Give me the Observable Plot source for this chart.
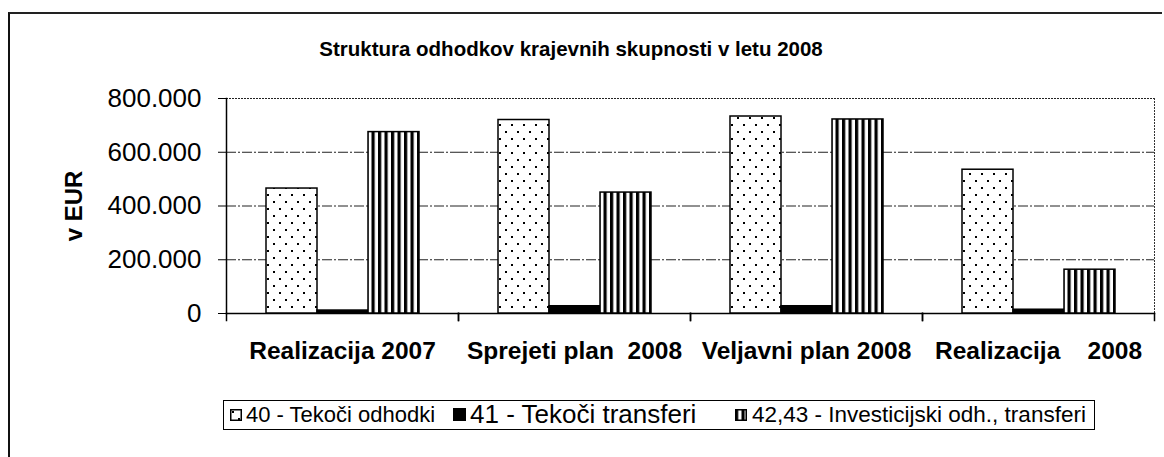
<!DOCTYPE html>
<html>
<head>
<meta charset="utf-8">
<script src="https://cdn.jsdelivr.net/npm/d3@7"></script>
<script src="https://cdn.jsdelivr.net/npm/@observablehq/plot@0.6"></script>
<style>
  body { margin: 0; background: #fff; font-family: "Liberation Sans", Arial, sans-serif; }
  #wrap { position: relative; width: 1164px; height: 457px; overflow: hidden; background: #fff; }
  #frame { position: absolute; left: 8px; top: 12px; width: 1152px; height: 470px; border-left: 2px solid #111; border-top: 2px solid #222; }
  #title { position: absolute; left: 0; top: 37px; width: 1142px; text-align: center; font-size: 20.5px; font-weight: bold; color: #000; white-space: pre; }
  #chart { position: absolute; left: 0; top: 80px; }
  #chart svg text { white-space: pre; }
  #legend { position: absolute; left: 223px; top: 400px; width: 872px; height: 30px; box-sizing: border-box; border: 1.5px solid #000; color: #000; }
  .sw { position: absolute; top: 7px; }
  .lt { position: absolute; top: 0; height: 27px; line-height: 27px; white-space: pre; }
</style>
</head>
<body>
<svg width="0" height="0" style="position:absolute">
  <defs>
    <pattern id="dots" width="12" height="14" patternUnits="userSpaceOnUse">
      <rect width="12" height="14" fill="#fff"/>
      <rect x="2" y="2" width="2" height="2" fill="#000"/>
      <rect x="8" y="9" width="2" height="2" fill="#000"/>
    </pattern>
    <pattern id="stripes" width="6.5" height="10" patternUnits="userSpaceOnUse">
      <rect width="6.5" height="10" fill="#fff"/>
      <rect x="0" y="0" width="3.2" height="10" fill="#000"/>
    </pattern>
  </defs>
</svg>
<div id="wrap">
  <div id="frame"></div>
  <div id="title"></div>
  <div id="chart"></div>
  <div id="legend"></div>
</div>
<script>
const chartTitle = "Struktura odhodkov krajevnih skupnosti v letu 2008";
const yLabel = "v EUR";
const categories = ["Realizacija 2007", "Sprejeti plan  2008", "Veljavni plan 2008", "Realizacija    2008"];
const seriesNames = ["40 - Tekoči odhodki", "41 - Tekoči transferi", "42,43 - Investicijski odh., transferi"];
const tekociOdhodki = [465000, 720000, 733000, 535000];
const tekociTransferi = [11000, 27000, 27000, 14000];
const investicijski = [675000, 450000, 722000, 163000];
const yTicks = [0, 200000, 400000, 600000, 800000];
const seriesFills = ["url(#dots)", "#000", "url(#stripes)"];

const seriesValues = [tekociOdhodki, tekociTransferi, investicijski];
const rows = categories.flatMap((c, i) => seriesNames.map((s, j) => ({cat: c, series: s, value: seriesValues[j][i]})));

const fmt = d3.formatLocale({decimal: ",", thousands: ".", grouping: [3], currency: ["", ""]}).format(",");

document.getElementById("title").textContent = chartTitle;

const plot = Plot.plot({
  width: 1164,
  height: 300,
  marginLeft: 225,
  marginRight: 9,
  marginTop: 18,
  marginBottom: 67,
  style: {fontFamily: "'Liberation Sans', Arial, sans-serif", color: "#000", background: "transparent"},
  fx: {domain: categories, padding: 0, label: null},
  x: {domain: seriesNames, paddingInner: 0, paddingOuter: 0.75, axis: null},
  y: {domain: [0, 800000], label: null},
  color: {type: "ordinal", domain: seriesNames, range: seriesFills},
  marks: [
    Plot.gridY(yTicks.filter(d => d > 0 && d < 800000), {stroke: "#222", strokeOpacity: 1, strokeWidth: 1, strokeDasharray: "10,2,2,2"}),
    Plot.gridY([800000], {stroke: "#222", strokeOpacity: 1, strokeWidth: 1, strokeDasharray: "2,1"}),
    Plot.frame({anchor: "right", facet: "super", stroke: "#333", strokeDasharray: "1,2"}),
    Plot.frame({anchor: "left", facet: "super", stroke: "#000", strokeWidth: 1.5}),
    Plot.frame({anchor: "left", insetTop: 215, insetBottom: -7, stroke: "#000", strokeWidth: 1.5}),
    Plot.frame({anchor: "right", insetTop: 215, insetBottom: -7, stroke: "#000", strokeWidth: 1.5}),
    Plot.frame({anchor: "bottom", stroke: "#000", strokeWidth: 1.5}),
    Plot.barY(rows, {fx: "cat", x: "series", y: "value", fill: "series", stroke: "#000", strokeWidth: 1.5}),
    Plot.axisY(yTicks, {anchor: "left", tickSize: 8, tickPadding: 17, tickFormat: fmt, fontSize: 26, label: null, stroke: "#000"}),
    Plot.axisY([], {anchor: "left", label: yLabel, labelAnchor: "center", labelArrow: "none", labelOffset: 162, fontSize: 24, fontWeight: "bold"}),
    Plot.axisFx({anchor: "bottom", tickSize: 0, tickPadding: 28, fontSize: 24.5, fontWeight: "bold", label: null})
  ]
});
document.getElementById("chart").appendChild(plot);

const legend = document.getElementById("legend");
const legendSwatchX = [6, 229, 511];
const legendTextX = [22, 246, 528];
const legendFontSize = [22, 26, 22.5];
seriesNames.forEach((s, j) => {
  const sz = j === 1 ? 13 : 12;
  const sw = document.createElement("div");
  sw.className = "sw";
  sw.style.left = legendSwatchX[j] + "px";
  sw.style.top = (j === 1 ? 7 : 8) + "px";
  sw.innerHTML = `<svg width="${sz}" height="${sz}" style="display:block"><rect x="0.75" y="0.75" width="${sz - 1.5}" height="${sz - 1.5}" fill="${seriesFills[j]}" stroke="#000" stroke-width="1.5"/></svg>`;
  legend.appendChild(sw);
  const t = document.createElement("div");
  t.className = "lt";
  t.style.left = legendTextX[j] + "px";
  t.style.fontSize = legendFontSize[j] + "px";
  t.textContent = s;
  legend.appendChild(t);
});
</script>
</body>
</html>
